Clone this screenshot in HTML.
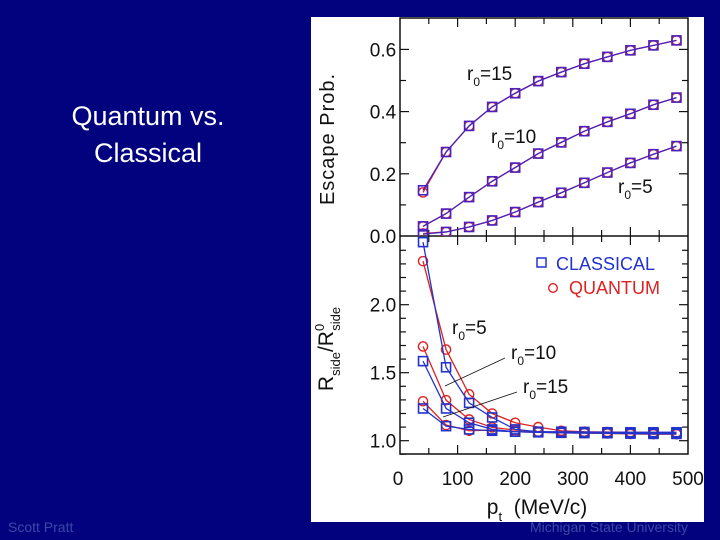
<!DOCTYPE html>
<html><head><meta charset="utf-8">
<style>
html,body{margin:0;padding:0}
body{width:720px;height:540px;background:#02027e;position:relative;overflow:hidden;font-family:"Liberation Sans",sans-serif}
#title{position:absolute;left:30px;top:98px;width:236px;text-align:center;color:#fff;font-size:27px;line-height:37px}
.foot{position:absolute;top:519px;font-size:14px;color:#3b48a6}
#chartbox{position:absolute;left:311px;top:17px;width:393px;height:505px;background:#fff}
</style></head><body>
<div id="title">Quantum vs.<br>Classical</div>
<div class="foot" style="left:8px">Scott Pratt</div>
<div class="foot" style="left:530px">Michigan State University</div>
<div id="chartbox">
<svg id="chart" width="393" height="505" xmlns="http://www.w3.org/2000/svg"></svg>
</div>
<script>
const ptValues=[40,80,120,160,200,240,280,320,360,400,440,480];
const escR15C=[0.147,0.27,0.354,0.415,0.459,0.498,0.527,0.554,0.576,0.597,0.613,0.629];
const escR15Q=[0.14,0.27,0.354,0.415,0.459,0.498,0.527,0.554,0.576,0.597,0.613,0.629];
const escR10C=[0.031,0.072,0.125,0.176,0.22,0.265,0.301,0.337,0.367,0.393,0.422,0.445];
const escR10Q=[0.031,0.072,0.125,0.176,0.22,0.265,0.301,0.337,0.367,0.393,0.422,0.445];
const escR5C=[0.006,0.013,0.029,0.05,0.077,0.109,0.139,0.171,0.204,0.235,0.263,0.289];
const escR5Q=[0.008,0.013,0.029,0.05,0.077,0.109,0.139,0.171,0.204,0.235,0.263,0.289];
const radR5C=[2.46,1.54,1.278,1.171,1.083,1.066,1.066,1.064,1.062,1.062,1.062,1.062];
const radR5Q=[2.32,1.67,1.341,1.2,1.132,1.10,1.073,1.066,1.064,1.062,1.06,1.06];
const radR10C=[1.585,1.237,1.132,1.083,1.066,1.062,1.06,1.06,1.058,1.058,1.056,1.056];
const radR10Q=[1.693,1.298,1.156,1.098,1.078,1.066,1.062,1.06,1.058,1.056,1.055,1.055];
const radR15C=[1.237,1.107,1.083,1.073,1.066,1.062,1.058,1.056,1.055,1.052,1.05,1.05];
const radR15Q=[1.29,1.115,1.073,1.078,1.066,1.062,1.058,1.056,1.053,1.05,1.048,1.048];
const xTickLabels=[0,100,200,300,400,500];
const escTickLabels=["0.0","0.2","0.4","0.6"];
const radTickLabels=["1.0","1.5","2.0"];

const svg=document.getElementById('chart');
const NS='http://www.w3.org/2000/svg';
const OX=311,OY=17;
const L=400-OX,R=688-OX,T=18-OY,MID=236-OY,B=454-OY;
const xs=v=>L+(v/500)*(R-L);
const yE=v=>MID-v*311;         // upper panel: 0.1 per 31.1px
const yR=v=>(440.7-OY)-(v-1)*136; // lower panel
const BLUE='#2233cc',RED='#dd2222',BLK='#111';
function mk(tag,attrs,parent){const e=document.createElementNS(NS,tag);for(const k in attrs)e.setAttribute(k,attrs[k]);(parent||svg).appendChild(e);return e;}
function txt(s,x,y,size,anchor,parent,color){const t=mk('text',{x:x,y:y,'font-size':size,'text-anchor':anchor||'middle',fill:color||BLK,'font-family':'Liberation Sans, sans-serif'},parent);t.textContent=s;return t;}

// frame
const frame=mk('rect',{x:L,y:T,width:R-L,height:B-T,fill:'none',stroke:BLK,'stroke-width':1.5});


const div=mk('line',{x1:L,x2:R,y1:MID,y2:MID,stroke:BLK,'stroke-width':1.5});



// x ticks
for(let v=50;v<500;v+=50){
  const big=v%100===0, len=big?9:6;
  [T,MID,B].forEach((yy,i)=>{
    if(i!==2) mk('line',{x1:xs(v),x2:xs(v),y1:yy,y2:yy+len,stroke:BLK,'stroke-width':1.2});
    if(i!==0) mk('line',{x1:xs(v),x2:xs(v),y1:yy,y2:yy-len,stroke:BLK,'stroke-width':1.2});
  });
}
xTickLabels.forEach(v=>{const t=txt(String(v),xs(v)-(v===0?2:0),B+31,19,'middle');

});
// upper y ticks
for(let i=1;i<=6;i++){const v=i/10,big=i%2===0,len=big?9:6;
  mk('line',{x1:L,x2:L+len,y1:yE(v),y2:yE(v),stroke:BLK,'stroke-width':1.2});
  mk('line',{x1:R,x2:R-len,y1:yE(v),y2:yE(v),stroke:BLK,'stroke-width':1.2});}
escTickLabels.forEach(s=>{const t=txt(s,L-17,yE(parseFloat(s))+7,19,'middle');

});
// lower y ticks
for(let i=0;i<=15;i++){const v=1+i/10;if(yR(v)<MID+2)continue;const big=i%5===0,len=big?9:6;
  mk('line',{x1:L,x2:L+len,y1:yR(v),y2:yR(v),stroke:BLK,'stroke-width':1.2});
  mk('line',{x1:R,x2:R-len,y1:yR(v),y2:yR(v),stroke:BLK,'stroke-width':1.2});}
mk('line',{x1:L,x2:L+6,y1:yR(0.9)+0,y2:yR(0.9),stroke:BLK});
radTickLabels.forEach(s=>{const t=txt(s,L-17,yR(parseFloat(s))+7,19,'middle');

});

// axis titles
const et=txt('Escape Prob.',0,0,20,'middle');
et.setAttribute('transform',`translate(23,${(T+MID)/2+12}) rotate(-90)`);
et.setAttribute('letter-spacing','1');


const rt=mk('text',{'font-size':21,'text-anchor':'middle',fill:BLK,'font-family':'Liberation Sans, sans-serif',transform:`translate(22,${(MID+B)/2+4}) rotate(-90)`});
rt.innerHTML='R<tspan font-size="13" dy="7">side</tspan><tspan dy="-7">/R</tspan><tspan font-size="13" dy="-9">0</tspan><tspan font-size="13" dx="-7" dy="16">side</tspan>';


const xt=mk('text',{x:(L+R)/2-7,y:B+60,'font-size':21,'text-anchor':'middle',fill:BLK,'font-family':'Liberation Sans, sans-serif'});
xt.innerHTML='p<tspan font-size="13" dy="7">t</tspan><tspan dy="-7" xml:space="preserve">  (MeV/c)</tspan>';



// clip groups
const defs=mk('defs',{});
const c1=mk('clipPath',{id:'cu'},defs);mk('rect',{x:L,y:T,width:R-L,height:MID-T},c1);
const c2=mk('clipPath',{id:'cl'},defs);mk('rect',{x:L,y:MID,width:R-L,height:B-MID},c2);
const gU=mk('g',{'clip-path':'url(#cu)'});


const gL=mk('g',{'clip-path':'url(#cl)'});



function series(g,vals,yf,color,marker,name){
  const grp=mk('g',{},g);
  
  
  mk('polyline',{points:vals.map((v,i)=>xs(ptValues[i])+','+yf(v)).join(' '),fill:'none',stroke:color,'stroke-width':1.3},grp);
  vals.forEach((v,i)=>{
    const x=xs(ptValues[i]),y=yf(v);
    if(marker==='sq') mk('rect',{x:x-4.5,y:y-4.5,width:9,height:9,fill:'none',stroke:color,'stroke-width':1.6},grp);
    else mk('circle',{cx:x,cy:y,r:4.6,fill:'none',stroke:color,'stroke-width':1.4},grp);
  });
}
const PUR='#6a2aa8';
series(gU,escR15Q,yE,RED,'c','escape-r15-quantum');
series(gU,escR10Q,yE,RED,'c','escape-r10-quantum');
series(gU,escR5Q,yE,RED,'c','escape-r5-quantum');
series(gU,escR15C,yE,'#4a22c0','sq','escape-r15-classical');
series(gU,escR10C,yE,'#4a22c0','sq','escape-r10-classical');
series(gU,escR5C,yE,'#4a22c0','sq','escape-r5-classical');
series(gL,radR5Q,yR,RED,'c','ratio-r5-quantum');
series(gL,radR10Q,yR,RED,'c','ratio-r10-quantum');
series(gL,radR15Q,yR,RED,'c','ratio-r15-quantum');
series(gL,radR5C,yR,BLUE,'sq','ratio-r5-classical');
series(gL,radR10C,yR,BLUE,'sq','ratio-r10-classical');
series(gL,radR15C,yR,BLUE,'sq','ratio-r15-classical');

// annotations
function rlabel(x,y,n,name){const t=mk('text',{x:x,y:y,'font-size':19,fill:BLK,'font-family':'Liberation Sans, sans-serif'});
t.innerHTML='r<tspan font-size="12" dy="6">0</tspan><tspan dy="-6">='+n+'</tspan>';

}
rlabel(467-OX,80-OY,'15','label-escape-r15');
rlabel(491-OX,143-OY,'10','label-escape-r10');
rlabel(618-OX,193-OY,'5','label-escape-r5');
rlabel(452-OX,334-OY,'5','label-ratio-r5');
rlabel(511-OX,359-OY,'10','label-ratio-r10');
rlabel(523-OX,393-OY,'15','label-ratio-r15');
mk('line',{x1:505-OX,y1:358-OY,x2:445-OX,y2:386-OY,stroke:BLK,'stroke-width':0.8});
mk('line',{x1:517-OX,y1:392-OY,x2:443-OX,y2:417-OY,stroke:BLK,'stroke-width':0.8});

// legend
const lg=mk('g',{});


mk('rect',{x:537-OX,y:258-OY,width:9,height:9,fill:'none',stroke:BLUE,'stroke-width':1.5},lg);
txt('CLASSICAL',556-OX,270-OY,18,'start',lg,BLUE);
mk('circle',{cx:553-OX,cy:288-OY,r:4.3,fill:'none',stroke:RED,'stroke-width':1.4},lg);
txt('QUANTUM',569-OX,294-OY,18,'start',lg,RED);
</script>
</body></html>
